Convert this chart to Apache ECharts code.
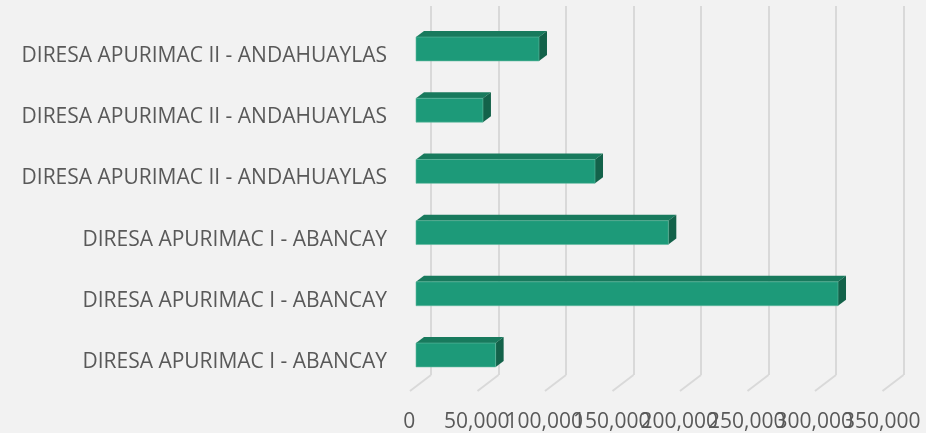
<!DOCTYPE html>
<html>
<head>
<meta charset="utf-8">
<script src="https://cdn.jsdelivr.net/npm/echarts@6/dist/echarts.min.js"></script>
<style>
  html, body { margin: 0; padding: 0; background: #f2f2f2; }
  #main { width: 926px; height: 433px; }
</style>
</head>
<body>
<div id="main"></div>
<script>
// categorias de abajo hacia arriba (como en Excel)
var categories = [
  'DIRESA APURIMAC I - ABANCAY',
  'DIRESA APURIMAC I - ABANCAY',
  'DIRESA APURIMAC I - ABANCAY',
  'DIRESA APURIMAC II - ANDAHUAYLAS',
  'DIRESA APURIMAC II - ANDAHUAYLAS',
  'DIRESA APURIMAC II - ANDAHUAYLAS'
];
var values = [59000, 312600, 186900, 132600, 49600, 91100];
var ticks = [0, 50000, 100000, 150000, 200000, 250000, 300000, 350000];
var tickLabels = ['0', '50,000', '100,000', '150,000', '200,000', '250,000', '300,000', '350,000'];

var FONT = '"Open Sans", sans-serif';
var TXT = '#595959';
var DX = 8, DY = -6; // profundidad de la barra

var myChart = echarts.init(document.getElementById('main'));

myChart.setOption({
  backgroundColor: '#f2f2f2',
  animation: false,
  grid: [
    { left: 416, right: 37.5, top: 18.4, bottom: 47.4 },   // barras
    { left: 431, right: 22.5, top: 6, bottom: 58 },        // pared del fondo
    { left: 409.3, right: 44.2, top: 300, bottom: 28 },    // etiquetas frontales
    { left: 416, right: 37.5, top: 25.4, bottom: 40.4 }    // etiquetas categorias
  ],
  xAxis: [
    {
      gridIndex: 0, type: 'value', min: 0, max: 350000, interval: 50000,
      axisLine: { show: false }, axisTick: { show: false },
      axisLabel: { show: false }, splitLine: { show: false }
    },
    {
      gridIndex: 1, type: 'value', min: 0, max: 350000, interval: 50000,
      axisLine: { show: false }, axisTick: { show: false },
      axisLabel: { show: false },
      splitLine: { show: true, lineStyle: { color: '#d9d9d9', width: 2 } }
    },
    {
      gridIndex: 2, type: 'category', data: tickLabels, boundaryGap: false,
      axisLine: { show: false }, axisTick: { show: false },
      splitLine: { show: false },
      axisLabel: {
        color: TXT, fontFamily: FONT, fontSize: 21, margin: 7, interval: 0
      }
    },
    { gridIndex: 3, type: 'value', min: 0, max: 1, show: false }
  ],
  yAxis: [
    {
      gridIndex: 0, type: 'category', data: categories,
      axisLine: { show: false }, axisTick: { show: false },
      axisLabel: { show: false }
    },
    { gridIndex: 1, type: 'value', min: 0, max: 1, show: false },
    { gridIndex: 2, type: 'value', min: 0, max: 1, show: false },
    {
      gridIndex: 3, type: 'category', data: categories,
      axisLine: { show: false }, axisTick: { show: false },
      axisLabel: { color: TXT, fontFamily: FONT, fontSize: 21, margin: 29 }
    }
  ],
  series: [
    {
      // lineas del piso
      type: 'custom',
      xAxisIndex: 1, yAxisIndex: 1,
      silent: true,
      data: ticks.map(function (t) { return [t, 0]; }),
      renderItem: function (params, api) {
        var p = api.coord([api.value(0), 0]);
        return {
          type: 'line',
          shape: { x1: p[0], y1: p[1], x2: p[0] - 21, y2: p[1] + 16 },
          style: { stroke: '#d9d9d9', lineWidth: 2 }
        };
      }
    },
    {
      type: 'custom',
      xAxisIndex: 0, yAxisIndex: 0,
      data: values.map(function (v, i) { return [v, i]; }),
      renderItem: function (params, api) {
        var c = api.value(1);
        var p0 = api.coord([0, c]);
        var p1 = api.coord([api.value(0), c]);
        var h = api.size([0, 1])[1] * 0.39;
        var x0 = p0[0], x1 = p1[0], yt = p0[1] - h / 2, yb = p0[1] + h / 2;
        return {
          type: 'group',
          children: [
            {
              type: 'polygon',
              shape: { points: [[x0, yt], [x0 + DX, yt + DY], [x1 + DX, yt + DY], [x1, yt]] },
              style: { fill: '#187a5d' }
            },
            {
              type: 'polygon',
              shape: { points: [[x1, yt], [x1 + DX, yt + DY], [x1 + DX, yb + DY], [x1, yb]] },
              style: { fill: '#13624a' }
            },
            {
              type: 'rect',
              shape: { x: x0, y: yt, width: x1 - x0, height: h },
              style: { fill: '#1d9a79', stroke: '#5fb89e', lineWidth: 0.6 }
            }
          ]
        };
      }
    }
  ]
});
</script>
</body>
</html>
